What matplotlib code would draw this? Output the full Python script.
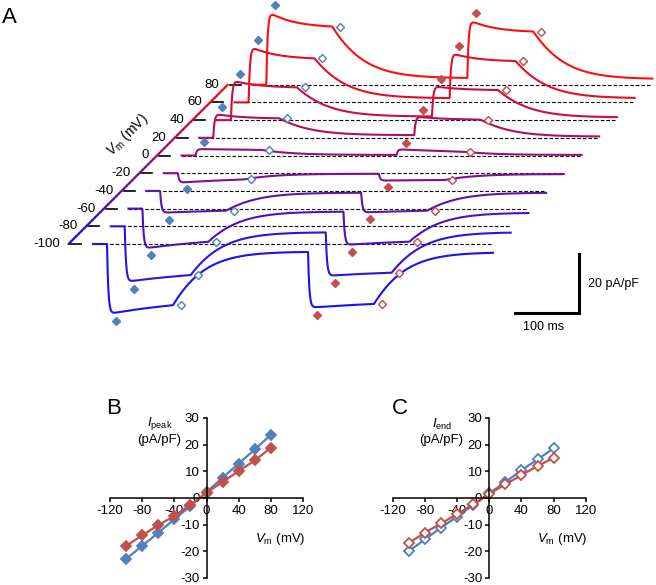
import numpy as np
import matplotlib
matplotlib.use("Agg")
import matplotlib.pyplot as plt
from matplotlib.collections import LineCollection

plt.rcParams['font.family'] = ['Liberation Sans', 'DejaVu Sans']
plt.rcParams['mathtext.fontset'] = 'custom'
plt.rcParams['mathtext.rm'] = 'Liberation Sans'
plt.rcParams['mathtext.it'] = 'Liberation Sans:italic'
plt.rcParams['axes.unicode_minus'] = False

W, H = 656, 585
BLUE = '#4F81BD'
RED = '#C0504D'

# membrane potential of each step (mV)
vm = [-100, -80, -60, -40, -20, 0, 20, 40, 60, 80]

# panel A: example traces (pA/pF)
peak1 = [-23.7, -18.8, -13.5, -7.4, -3.2, 2.2, 8.1, 13.4, 18.9, 24.7]
end1 = [-20.7, -16.5, -11.2, -6.7, -2.1, 1.9, 6.6, 11.1, 14.9, 19.7]
tail1 = [-2.6, -2.0, -1.0, -0.6, -0.2, 0.2, 0.9, 1.2, 1.4, 2.2]
peak2 = [-21.6, -16.8, -12.3, -7.3, -2.5, 2.1, 7.2, 11.5, 16.7, 21.9]
end2 = [-20.3, -15.7, -11.2, -6.7, -2.3, 1.3, 6.2, 10.2, 14.0, 18.0]
tail2 = [-2.8, -2.0, -1.4, -0.6, -0.3, 0.2, 0.4, 0.9, 1.4, 1.9]

# panel B: peak current, panel C: end current (pA/pF)
ipeak_blue = [-22.8, -18.0, -13.0, -8.0, -3.0, 2.2, 7.6, 12.9, 18.2, 23.7]
ipeak_red = [-18.0, -14.0, -10.2, -6.7, -2.6, 2.0, 6.0, 10.1, 14.1, 18.8]
iend_blue = [-19.9, -15.5, -11.1, -7.0, -2.6, 1.8, 6.0, 10.4, 14.5, 18.6]
iend_red = [-16.8, -13.0, -9.5, -6.1, -2.4, 1.6, 5.1, 8.6, 12.0, 15.1]


def fx(px):
    return px / W


def fy(py):
    return 1 - py / H


fig = plt.figure(figsize=(W / 100, H / 100), dpi=100)

# ---------------- panel A ----------------
px_ms, px_pa = 0.64, 2.95        # pixels per ms, pixels per pA/pF
x0, y0 = 93, 244                  # start of the -100 mV trace
axA = fig.add_axes([0, fy(340), 1, 340 / H])
axA.set_xlim(-x0 / px_ms, (W - x0) / px_ms)
axA.set_ylim((y0 - 340) / px_pa, y0 / px_pa)
axA.axis('off')

dx, dy = 17.7 / px_ms, 17.7 / px_pa   # shift between traces
t_on1, t_on2, dur, t_len = 21.9, 336.0, 103.0, 625.0
tau_act, tau_tail = 2.0, 33.0
t = np.arange(0, t_len + 0.25, 0.5)


def pulse(tt, prev, pk, en, tau_in):
    e = np.exp(-dur / tau_in)
    ss = (en - pk * e) / (1 - e)
    target = ss + (pk - ss) * np.exp(-np.maximum(tt - 3, 0) / tau_in)
    act = 1 - np.exp(-tt / tau_act)
    return prev + (target - prev) * act


def relax(tt, last, tl):
    # slightly sigmoid return after the pulse
    s = tt / tau_tail
    return tl + (last - tl) * np.exp(-s) * (1 + s * 0.35)


def make_trace(i):
    tau_in = 40.0 if vm[i] > 0 else 150.0
    y = np.zeros_like(t)
    prev = 0.0
    for ton, pk, en, tl, tnext in [(t_on1, peak1[i], end1[i], tail1[i], t_on2),
                                   (t_on2, peak2[i], end2[i], tail2[i], t_len + 1)]:
        m = (t >= ton) & (t < ton + dur)
        y[m] = pulse(t[m] - ton, prev, pk, en, tau_in)
        last = pulse(dur, prev, pk, en, tau_in)
        m = (t >= ton + dur) & (t < tnext)
        y[m] = relax(t[m] - ton - dur, last, tl)
        prev = relax(tnext - ton - dur, last, tl)
    return y


c_lo = np.array([0.08, 0.08, 0.95])
c_hi = np.array([1.0, 0.05, 0.05])
n = len(vm)
ax_off = -24.5 / px_ms

for i in range(n):
    f = i / (n - 1)
    col = c_lo * (1 - f) + c_hi * f
    xo, yo = i * dx, i * dy
    axA.plot([xo, xo + t_len], [yo, yo], color='k', lw=0.8,
             ls=(0, (3.2, 1.8)), zorder=1)
    axA.plot([xo - 35.3, xo - 18.1], [yo, yo], color='k', lw=1.2, zorder=1)
    axA.text(xo + ax_off - 13, yo, str(vm[i]), ha='right', va='center',
             fontsize=9.5)
    axA.plot(t + xo, make_trace(i) + yo, color=col, lw=1.5, zorder=2 + i * 0.1)
    for ton, pk, en, mc in [(t_on1, peak1[i], end1[i], BLUE),
                            (t_on2, peak2[i], end2[i], RED)]:
        sgn = 1 if pk > 0 else -1
        axA.plot(ton + 14 + xo, pk + sgn * 2.3 + yo, 'D', color=mc, ms=4.2,
                 mec=mc, zorder=5)
        axA.plot(ton + dur + 12 + xo, en + yo, 'D', mfc='white', mec=mc,
                 ms=4.0, mew=1.0, zorder=5)

# colour graded voltage axis
k = 60
xs = np.linspace(ax_off, ax_off + (n - 1) * dx, k + 1)
ys = np.linspace(0, (n - 1) * dy, k + 1)
segs = [[(xs[j], ys[j]), (xs[j + 1], ys[j + 1])] for j in range(k)]
fr = (np.arange(k) + 0.5) / k
cols = [c_lo * (1 - q) + c_hi * q for q in fr]
axA.add_collection(LineCollection(segs, colors=cols, linewidths=1.6,
                                  capstyle='round', zorder=3))

fig.text(fx(127), fy(135), r'$V_\mathrm{m}$ (mV)', rotation=45,
         ha='center', va='center', fontsize=10)

# scale bar
sb_x = (579 - x0) / px_ms
sb_y = (y0 - 313) / px_pa
axA.plot([sb_x - 100, sb_x, sb_x], [sb_y, sb_y, sb_y + 20], color='k',
         lw=2.2, solid_joinstyle='miter')
axA.text(sb_x + 14, sb_y + 10, '20 pA/pF', ha='left', va='center', fontsize=9)
axA.text(sb_x - 55, sb_y - 4.8, '100 ms', ha='center', va='center', fontsize=9)

fig.text(fx(2), fy(7), 'A', ha='left', va='top', fontsize=16)


# ---------------- panels B and C ----------------
def iv_panel(left, blue, red, filled, ylab, letter, lx, lab_x, vm_x):
    ax = fig.add_axes([fx(left), fy(578), 193 / W, 160 / H])
    ax.patch.set_alpha(0)
    for vals, c in [(blue, BLUE), (red, RED)]:
        ax.plot(vm, vals, '-', color=c, lw=1.6, marker='D', ms=4.6,
                mfc=c if filled else 'white', mec=c, mew=1.3, clip_on=False)
    ax.set_xlim(-120, 120)
    ax.set_ylim(-30, 30)
    ax.spines['left'].set_position(('data', 0))
    ax.spines['bottom'].set_position(('data', 0))
    ax.spines['top'].set_visible(False)
    ax.spines['right'].set_visible(False)
    for s in ['left', 'bottom']:
        ax.spines[s].set_linewidth(1.1)
    ax.set_xticks(range(-120, 121, 40))
    ax.set_yticks(range(-30, 31, 10))
    ax.tick_params(direction='out', length=3, width=1.1, labelsize=9.5, pad=2)
    fig.text(fx(lab_x), fy(424), ylab, ha='center', va='center', fontsize=9.5)
    fig.text(fx(lab_x - 1), fy(440), '(pA/pF)', ha='center', va='center',
             fontsize=9.5)
    fig.text(fx(vm_x), fy(539), r'$V_\mathrm{m}$ (mV)', ha='center',
             va='center', fontsize=9.5)
    fig.text(fx(lx), fy(398), letter, ha='left', va='top', fontsize=16)
    return ax


iv_panel(110, ipeak_blue, ipeak_red, True, r'$I_\mathrm{peak}$', 'B', 106,
         160, 280)
iv_panel(392.8, iend_blue, iend_red, False, r'$I_\mathrm{end}$', 'C', 392,
         442, 562)

fig.savefig('out.png', dpi=100)
